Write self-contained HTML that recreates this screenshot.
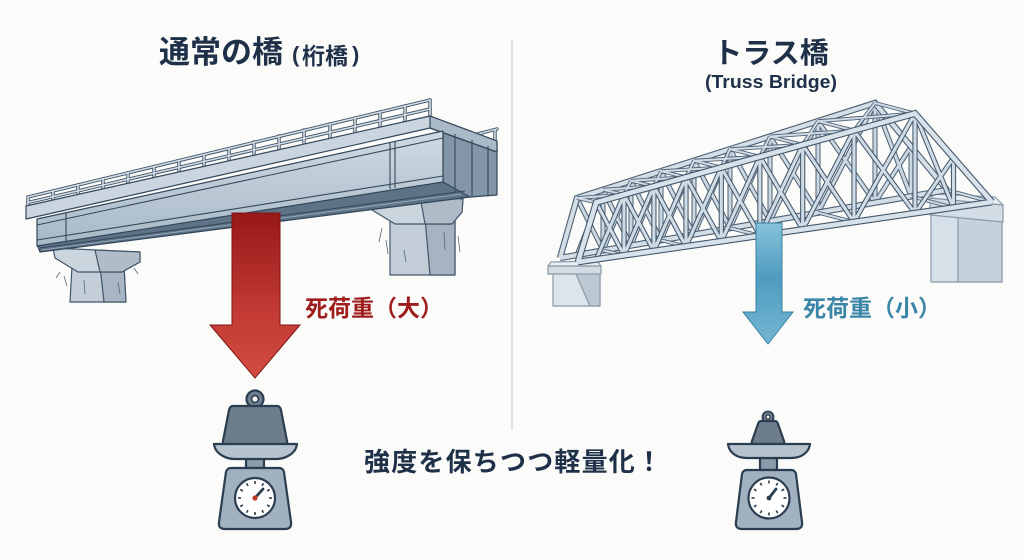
<!DOCTYPE html>
<html><head><meta charset="utf-8"><style>
html,body{margin:0;padding:0;background:#fbfbf9;}
svg{display:block;}
text{font-family:"Liberation Sans","Noto Sans CJK JP",sans-serif;font-weight:700;}
</style></head><body>
<svg width="1024" height="559" viewBox="0 0 1024 559" xmlns="http://www.w3.org/2000/svg">
<defs>
<linearGradient id="redG" x1="0" y1="0" x2="0" y2="1"><stop offset="0" stop-color="#981818"/><stop offset="0.6" stop-color="#c23a33"/><stop offset="1" stop-color="#d24c40"/></linearGradient>
<linearGradient id="blueG" x1="0" y1="0" x2="0" y2="1"><stop offset="0" stop-color="#86c2db"/><stop offset="0.45" stop-color="#4f9cc0"/><stop offset="1" stop-color="#74b6d3"/></linearGradient>
<linearGradient id="webG" x1="0" y1="0" x2="0" y2="1"><stop offset="0" stop-color="#cfdae3"/><stop offset="1" stop-color="#a7b8c6"/></linearGradient>
<path id="aChord" fill="none" d="M560,258 L947,190 M560,258 L577,198 L875,103 L947,190"/>
<path id="aMem" fill="none" d="M603,189.7V250.4 M631,180.8V245.5 M661,171.2V240.3 M694,160.7V234.5 M730,149.2V228.1 M770,136.5V221.1 M818,121.2V212.7 M875,103V202.7 M911,146.5V196.3
M577,198L603,250.4 M577,255L603,189.7
M603,189.7L631,245.5 M603,250.4L631,180.8
M631,180.8L661,240.3 M631,245.5L661,171.2
M661,171.2L694,234.5 M661,240.3L694,160.7
M694,160.7L730,228.1 M694,234.5L730,149.2
M730,149.2L770,221.1 M730,228.1L770,136.5
M770,136.5L818,212.7 M770,221.1L818,121.2
M818,121.2L875,202.7 M818,212.7L875,103
M875,103L911,196.3 M875,202.7L911,146.5"/>
<path id="lat" fill="none" d="M577,198L596.2,202.4 M603,189.7L624,194.6 M631,180.8L653.9,186.3 M661,171.2L686,177.3 M694,160.7L721.3,167.5 M730,149.2L759.9,156.7 M770,136.5L802.7,144.8 M818,121.2L854,130.5 M875,103L915,113.5
M577,198L624,194.6 M603,189.7L653.9,186.3 M631,180.8L686,177.3 M661,171.2L721.3,167.5 M694,160.7L759.9,156.7 M730,149.2L802.7,144.8 M770,136.5L854,130.5 M818,121.2L915,113.5
M624,194.6L631,180.8 M653.9,186.3L661,171.2 M686,177.3L694,160.7 M721.3,167.5L730,149.2 M759.9,156.7L770,136.5 M802.7,144.8L818,121.2 M854,130.5L875,103
M603,250.4L624,255.3 M661,240.3L686,246.4 M730,228.1L759.9,235.6 M818,212.7L854,222 M911,196.3L953.5,207.6 M947,190L992,202"/>
<path id="bChord" fill="none" d="M578,262 L992,202 M578,262 L596.2,202.4 L624,194.6 L653.9,186.3 L686,177.3 L721.3,167.5 L759.9,156.7 L802.7,144.8 L854,130.5 L915,113.5 L992,202"/>
<path id="bMem" fill="none" d="M624,194.6V255.3 M653.9,186.3V251 M686,177.3V246.4 M721.3,167.5V241.3 M759.9,156.7V235.6 M802.7,144.8V229.4 M854,130.5V222 M915,113.5V213.2 M953.5,157.8V207.6
M596.2,202.4L624,255.3 M596.2,259.4L624,194.6
M624,194.6L653.9,251 M624,255.3L653.9,186.3
M653.9,186.3L686,246.4 M653.9,251L686,177.3
M686,177.3L721.3,241.3 M686,246.4L721.3,167.5
M721.3,167.5L759.9,235.6 M721.3,241.3L759.9,156.7
M759.9,156.7L802.7,229.4 M759.9,235.6L802.7,144.8
M802.7,144.8L854,222 M802.7,229.4L854,130.5
M854,130.5L915,213.2 M854,222L915,113.5
M915,113.5L953.5,207.6 M915,213.2L953.5,157.8"/>
</defs>

<rect width="1024" height="559" fill="#fbfbf9"/>

<!-- divider -->
<line x1="512" y1="40" x2="512" y2="430" stroke="#d5dadf" stroke-width="1.5"/>

<!-- ===== Titles ===== -->
<text x="159" y="63" font-size="31" fill="#1f3149">通常の橋</text>
<text x="292" y="62" font-size="22" fill="#1f3149">(</text>
<text x="302" y="64" font-size="23" fill="#1f3149">桁橋</text>
<text x="352" y="62" font-size="22" fill="#1f3149">)</text>
<text x="771" y="63" font-size="29" fill="#1f3149" text-anchor="middle">トラス橋</text>
<text x="771" y="88" font-size="18" fill="#1f3149" text-anchor="middle" textLength="132" lengthAdjust="spacingAndGlyphs">(Truss Bridge)</text>

<!-- ===== Girder bridge ===== -->
<!-- left pier -->
<g stroke="#42566a" stroke-width="1.2" stroke-linejoin="round">
<polygon points="72,266 124,266 126,302 70,302" fill="#c3ced8"/>
<polygon points="100,266 124,266 126,302 104,302" fill="#a8b6c3"/>
<polygon points="53,248 140,252 140,262 122,272 78,272 55,258" fill="#cbd5de"/>
<polygon points="95,250 140,252 140,262 122,272 100,272" fill="#b0bdc9"/>
</g>
<g stroke="#55687b" stroke-width="0.8" fill="none">
<path d="M64,276 l3,10 M60,272 l-4,6 M134,268 l4,6 M118,282 l2,12 M84,280 l1,14"/>
</g>
<!-- right pier -->
<g stroke="#42566a" stroke-width="1.2" stroke-linejoin="round">
<polygon points="390,218 455,218 455,275 390,275" fill="#c3ced8"/>
<polygon points="425,218 455,218 455,275 430,275" fill="#a6b4c1"/>
<polygon points="370,193 463,199 462,212 452,224 395,224 372,210" fill="#cbd5de"/>
<polygon points="420,196 463,199 462,212 452,224 425,224" fill="#afbcc8"/>
</g>
<g stroke="#55687b" stroke-width="0.8" fill="none">
<path d="M382,228 l-3,14 M386,240 l2,14 M458,236 l2,16 M444,232 l1,18 M404,250 l2,12"/>
</g>

<!-- railing -->
<g stroke-linecap="round">
<g stroke="#3d5165" stroke-width="3.4">
<line x1="28" y1="197" x2="430" y2="100"/><line x1="28" y1="202.5" x2="430" y2="109"/>
<path d="M28,197V208 M53,191V202 M78,185V197 M103,179V191 M128,173V185 M154,167V180 M179,161V174 M204,155V169 M229,149V163 M254,142V157 M279,136V152 M304,130V146 M330,124V140 M355,118V135 M380,112V129 M405,106V124 M430,100V118"/>
<line x1="462" y1="138" x2="497" y2="129"/><path d="M466,137V146 M481,133V144 M495,130V143"/>
</g>
<g stroke="#d3dde6" stroke-width="1.6">
<line x1="28" y1="197" x2="430" y2="100"/><line x1="28" y1="202.5" x2="430" y2="109"/>
<path d="M28,197V208 M53,191V202 M78,185V197 M103,179V191 M128,173V185 M154,167V180 M179,161V174 M204,155V169 M229,149V163 M254,142V157 M279,136V152 M304,130V146 M330,124V140 M355,118V135 M380,112V129 M405,106V124 M430,100V118"/>
<line x1="462" y1="138" x2="497" y2="129"/><path d="M466,137V146 M481,133V144 M495,130V143"/>
</g>
</g>

<!-- girder underside & end -->
<g stroke="#33475b" stroke-width="1.2" stroke-linejoin="round">
<polygon points="37,244 443,180 470,190 470,197 40,252" fill="#5f7387"/>
<polygon points="443,129 497,149 497,195 470,197 443,182" fill="#8396a8"/>
<polygon points="26,206 430,116 497,141 497,152 430,128 26,219" fill="#cad5df"/>
<polygon points="430,116 497,141 497,152 430,128" fill="#a9b9c7"/>
<polygon points="37,219 443,131 443,182 37,246" fill="url(#webG)"/>
</g>
<g stroke="#34485c" fill="none" stroke-width="1.1">
<line x1="37" y1="225" x2="443" y2="138"/>
<line x1="37" y1="240" x2="443" y2="176"/>
<line x1="40" y1="248" x2="465" y2="191"/>
<line x1="66" y1="213" x2="66" y2="241"/>
<line x1="390" y1="143" x2="390" y2="189"/>
<line x1="395" y1="142" x2="395" y2="188"/>
<line x1="455" y1="134" x2="455" y2="192"/>
<line x1="472" y1="140" x2="472" y2="196"/>
<line x1="488" y1="146" x2="488" y2="195"/>
</g>
<g stroke="#9fb0bf" stroke-width="0.8"><line x1="42" y1="250" x2="462" y2="194"/></g>

<!-- ===== Truss bridge ===== -->
<!-- right pier -->
<g stroke="#8a9aa8" stroke-width="1.2" stroke-linejoin="round">
<polygon points="931,214 1002,214 1002,282 931,282" fill="#d6e0e8"/>
<polygon points="958,214 1002,214 1002,282 958,282" fill="#c5d2dd"/>
<polygon points="930,198 1003,205 1003,222 930,215" fill="#d3dde6"/>
<polygon points="935,194 995,197 1003,205 930,198" fill="#e8edf1"/>
</g>
<!-- left pier -->
<g stroke="#8a9aa8" stroke-width="1.2" stroke-linejoin="round">
<polygon points="553,272 600,272 600,306 553,306" fill="#dde4ea"/>
<polygon points="575,272 600,272 600,306 590,306" fill="#bcc8d2"/>
<polygon points="548,266 601,266 601,274 548,274" fill="#d3dce4"/>
<polygon points="551,262 597,261 601,266 548,266" fill="#e8edf1"/>
</g>

<!-- far truss A -->
<use href="#aMem" stroke="#4b5f73" stroke-width="5"/>
<use href="#aMem" stroke="#cbd8e2" stroke-width="3"/>
<use href="#aChord" stroke="#4b5f73" stroke-width="6.4"/>
<use href="#aChord" stroke="#d3dee7" stroke-width="4.2"/>
<!-- lateral bracing -->
<use href="#lat" stroke="#50647a" stroke-width="3.8"/>
<use href="#lat" stroke="#d0dbe4" stroke-width="2"/>
<!-- near truss B -->
<use href="#bMem" stroke="#44586c" stroke-width="5.2"/>
<use href="#bMem" stroke="#cfdbe5" stroke-width="3.1"/>
<use href="#bChord" stroke="#44586c" stroke-width="6.8"/>
<use href="#bChord" stroke="#d8e2ea" stroke-width="4.6"/>

<!-- ===== Arrows ===== -->
<polygon points="232,213 280,213 280,325 300,325 255,378 210,325 232,325" fill="url(#redG)" stroke="#7e1616" stroke-width="1"/>
<polygon points="756,223 782,223 782,312 793,312 768,344 743,312 756,312" fill="url(#blueG)" stroke="#3a7fa0" stroke-width="1"/>

<text x="305" y="316" font-size="23" fill="#9e1e1e">死荷重（大）</text>
<text x="803" y="316" font-size="23" fill="#3b86a8">死荷重（小）</text>

<!-- ===== Scales ===== -->
<g stroke="#2b3d50" stroke-width="2.2" stroke-linejoin="round">
<!-- left -->
<circle cx="255" cy="399" r="8.5" fill="#6f7f8f"/>
<circle cx="255" cy="399" r="3.4" fill="#fbfbf9" stroke-width="1.6"/>
<path d="M233,406 L277,406 Q280,406 281,410 L287,441 Q288,445 284,445 L226,445 Q222,445 223,441 L229,410 Q230,406 233,406 Z" fill="#6d7d8c"/>
<rect x="246" y="458" width="18" height="10" fill="#8d9cab"/>
<path d="M214,444 L297,444 Q296,452 288,456 Q283,459 276,459 L235,459 Q228,459 223,456 Q215,452 214,444 Z" fill="#b7c4cf"/>
<path d="M231,468 L279,468 Q283,468 284,472 L291,522 Q292,529 285,529 L225,529 Q218,529 219,522 L226,472 Q227,468 231,468 Z" fill="#a1b1c0"/>
<circle cx="255" cy="498" r="20" fill="#ffffff"/>
<!-- right -->
<circle cx="768" cy="417" r="5.5" fill="#6f7f8f" stroke-width="1.8"/>
<circle cx="768" cy="417" r="2" fill="#fbfbf9" stroke-width="1.2"/>
<path d="M761,421 L775,421 Q777,421 778,424 L784,441 Q785,444 782,444 L754,444 Q751,444 752,441 L758,424 Q759,421 761,421 Z" fill="#6d7d8c"/>
<rect x="760" y="458" width="17" height="12" fill="#8d9cab"/>
<path d="M728,444 L810,444 Q809,452 801,456 Q797,458 790,458 L748,458 Q741,458 737,456 Q729,452 728,444 Z" fill="#b7c4cf"/>
<path d="M747,470 L791,470 Q795,470 796,474 L802,522 Q803,529 796,529 L742,529 Q735,529 736,522 L742,474 Q743,470 747,470 Z" fill="#a1b1c0"/>
<circle cx="769" cy="498" r="20.5" fill="#ffffff"/>
</g>
<g transform="translate(255,498)" stroke="#2b3d50" stroke-width="1.6">
<line y1="-14" y2="-17"/><line y1="-14" y2="-17" transform="rotate(30)"/><line y1="-14" y2="-17" transform="rotate(60)"/><line y1="-14" y2="-17" transform="rotate(90)"/><line y1="-14" y2="-17" transform="rotate(120)"/><line y1="-14" y2="-17" transform="rotate(150)"/><line y1="-14" y2="-17" transform="rotate(180)"/><line y1="-14" y2="-17" transform="rotate(210)"/><line y1="-14" y2="-17" transform="rotate(240)"/><line y1="-14" y2="-17" transform="rotate(270)"/><line y1="-14" y2="-17" transform="rotate(300)"/><line y1="-14" y2="-17" transform="rotate(330)"/>
<line x1="0" y1="0" x2="8" y2="-9" stroke-width="2.8" stroke-linecap="round"/>
<circle r="2.6" fill="#c0392b" stroke="none"/>
</g>
<g transform="translate(769,498)" stroke="#2b3d50" stroke-width="1.6">
<line y1="-14.5" y2="-17.5"/><line y1="-14.5" y2="-17.5" transform="rotate(30)"/><line y1="-14.5" y2="-17.5" transform="rotate(60)"/><line y1="-14.5" y2="-17.5" transform="rotate(90)"/><line y1="-14.5" y2="-17.5" transform="rotate(120)"/><line y1="-14.5" y2="-17.5" transform="rotate(150)"/><line y1="-14.5" y2="-17.5" transform="rotate(180)"/><line y1="-14.5" y2="-17.5" transform="rotate(210)"/><line y1="-14.5" y2="-17.5" transform="rotate(240)"/><line y1="-14.5" y2="-17.5" transform="rotate(270)"/><line y1="-14.5" y2="-17.5" transform="rotate(300)"/><line y1="-14.5" y2="-17.5" transform="rotate(330)"/>
<line x1="0" y1="0" x2="7" y2="-9" stroke-width="2.8" stroke-linecap="round"/>
<circle r="2.4" fill="#2b3d50" stroke="none"/>
</g>

<!-- bottom caption -->
<text x="364" y="471" font-size="26" fill="#1f3149" letter-spacing="1.2">強度を保ちつつ軽量化！</text>
</svg>
</body></html>
